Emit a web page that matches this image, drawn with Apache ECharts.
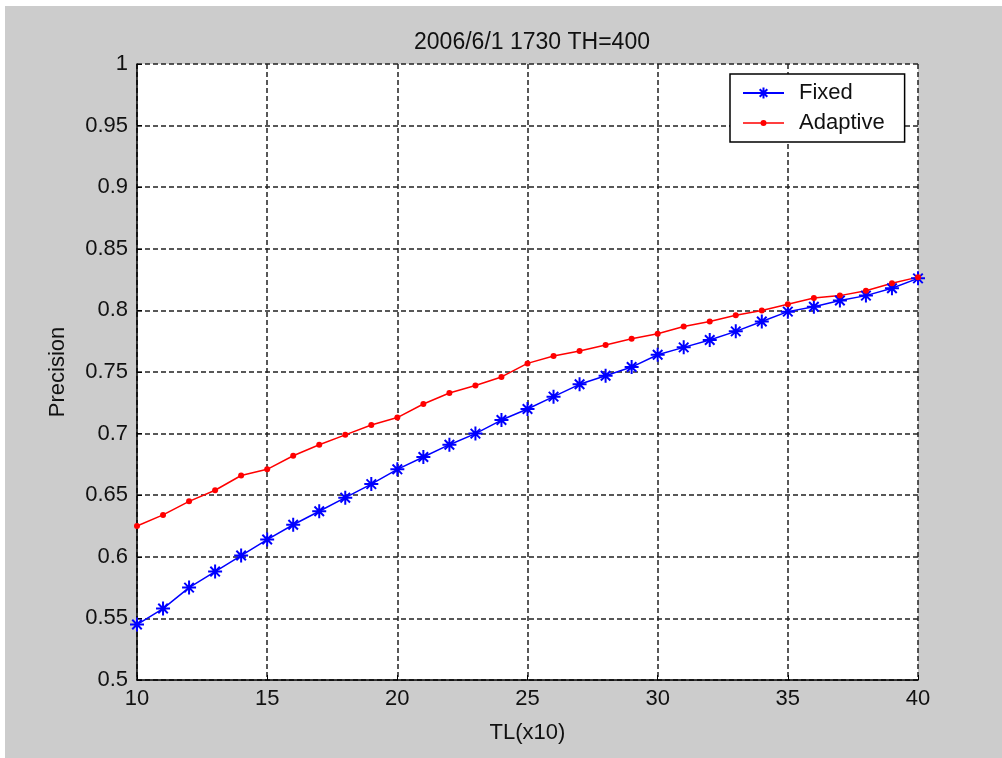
<!DOCTYPE html>
<html>
<head>
<meta charset="utf-8">
<script src="https://cdn.jsdelivr.net/npm/echarts@6/dist/echarts.min.js"></script>
<style>
  html, body { margin: 0; padding: 0; background: #fff; overflow: hidden; width: 100%; height: 100%; }
  #chart { position: absolute; left: 5px; top: 6px; right: 0; bottom: 0; background: #cccccc; }
</style>
</head>
<body>
<div id="chart"></div>
<script>
// TL(x10) 取值
var tl = [10, 11, 12, 13, 14, 15, 16, 17, 18, 19, 20, 21, 22, 23, 24, 25,
          26, 27, 28, 29, 30, 31, 32, 33, 34, 35, 36, 37, 38, 39, 40];
var fixedPrecision = [0.545, 0.558, 0.575, 0.588, 0.601, 0.614, 0.626, 0.637, 0.648, 0.659, 0.671,
                      0.681, 0.691, 0.700, 0.711, 0.720, 0.730, 0.740, 0.747, 0.754, 0.764,
                      0.770, 0.776, 0.783, 0.791, 0.799, 0.803, 0.808, 0.812, 0.818, 0.826];
var adaptivePrecision = [0.625, 0.634, 0.645, 0.654, 0.666, 0.671, 0.682, 0.691, 0.699, 0.707, 0.713,
                         0.724, 0.733, 0.739, 0.746, 0.757, 0.763, 0.767, 0.772, 0.777, 0.781,
                         0.787, 0.791, 0.796, 0.800, 0.805, 0.810, 0.812, 0.816, 0.822, 0.827];
var seriesNames = ['Fixed', 'Adaptive'];
var titleText = '2006/6/1 1730 TH=400';

var fontFamily = '"Liberation Sans", Arial, sans-serif';
var fontColor = '#111';
// 星号标记
var starPath = 'path://M0,5L10,5M5,0L5,10M1.6,1.6L8.4,8.4M8.4,1.6L1.6,8.4';
// 图例里的 线+小圆点 (前两个 M 只用来撑开 41x14 的范围)
var dotLinePath = 'path://M0,0M41,14M0,6.3L41,6.3L41,7.7L0,7.7ZM17.5,7a3,3 0 1,1 6,0a3,3 0 1,1 -6,0Z';

function pairs(xs, ys) {
    var out = [];
    xs.forEach(function (x, i) { out.push([x, ys[i]]); });
    return out;
}

var gridLine = { show: true, lineStyle: { color: '#222', width: 1.5, type: [5, 3] } };

var myChart = echarts.init(document.getElementById('chart'));
var option = {
    backgroundColor: '#cccccc',
    animation: false,
    title: {
        text: titleText,
        left: 522,
        top: 20,
        textAlign: 'center',
        textStyle: { color: fontColor, fontWeight: 'normal', fontSize: 23, fontFamily: fontFamily }
    },
    legend: {
        data: [{ name: seriesNames[0] }, { name: seriesNames[1], icon: dotLinePath }],
        orient: 'vertical',
        left: 725,
        top: 68,
        padding: [8, 20, 8, 12],
        itemGap: 8,
        itemWidth: 41,
        itemHeight: 14,
        backgroundColor: '#fff',
        borderColor: '#000',
        borderWidth: 1.5,
        borderRadius: 0,
        textStyle: { color: fontColor, fontSize: 22, fontFamily: fontFamily, padding: [0, 0, 0, 10] }
    },
    grid: { left: 132, right: 84, top: 58, bottom: 78, backgroundColor: '#fff', show: true, borderWidth: 0 },
    xAxis: {
        type: 'value',
        min: 10, max: 40, interval: 5,
        name: 'TL(x10)',
        nameLocation: 'middle',
        nameGap: 42,
        nameTextStyle: { color: fontColor, fontSize: 22, fontFamily: fontFamily },
        axisLine: { lineStyle: { color: '#000', width: 1.5 } },
        axisTick: { inside: true, length: 5, lineStyle: { color: '#000' } },
        axisLabel: { color: fontColor, fontSize: 22, fontFamily: fontFamily, margin: 8 },
        splitLine: gridLine
    },
    yAxis: {
        type: 'value',
        min: 0.5, max: 1, interval: 0.05,
        name: 'Precision',
        nameLocation: 'middle',
        nameGap: 68,
        nameTextStyle: { color: fontColor, fontSize: 22, fontFamily: fontFamily },
        axisLine: { show: true, lineStyle: { color: '#000', width: 1.5 } },
        axisTick: { show: true, inside: true, length: 5, lineStyle: { color: '#000' } },
        axisLabel: { color: fontColor, fontSize: 22, fontFamily: fontFamily, margin: 9 },
        splitLine: gridLine
    },
    series: [{
        name: seriesNames[0],
        type: 'line',
        data: pairs(tl, fixedPrecision),
        symbol: starPath,
        symbolSize: 14,
        lineStyle: { color: '#0000ff', width: 1.5 },
        itemStyle: { color: '#0000ff', borderColor: '#0000ff', borderWidth: 2 }
    }, {
        name: seriesNames[1],
        type: 'line',
        data: pairs(tl, adaptivePrecision),
        symbol: 'circle',
        symbolSize: 6,
        lineStyle: { color: '#ff0000', width: 1.5 },
        itemStyle: { color: '#ff0000', borderWidth: 0 }
    }]
};
myChart.setOption(option);
window.addEventListener('resize', function () { myChart.resize(); });
</script>
</body>
</html>
